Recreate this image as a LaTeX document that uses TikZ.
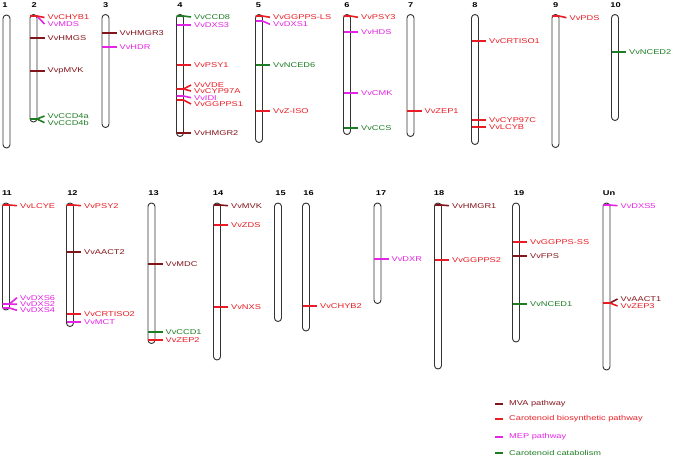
\documentclass[tikz,border=0pt]{standalone}
\usepackage{fontspec}
\newfontfamily\labf[FakeStretch=1.32]{Liberation Sans}
\definecolor{mvac}{RGB}{130,20,28}
\definecolor{caroc}{RGB}{232,28,36}
\definecolor{mepc}{RGB}{228,36,228}
\definecolor{catc}{RGB}{30,125,36}
\tikzset{
  chromo/.style={draw=black!80, fill=white, line width=0.9pt, rectangle, rounded corners=3.4pt, minimum width=7pt, inner sep=0pt},
  numlab/.style={font=\labf\fontsize{7}{8}\selectfont\bfseries, inner sep=0pt},
  glab/.style={font=\labf\fontsize{7}{8}\selectfont, anchor=west, inner xsep=3pt, inner ysep=0pt},
  tick/.style={line width=1.6pt},
  mva/.style={color=mvac},
  caro/.style={color=caroc},
  mep/.style={color=mepc},
  cat/.style={color=catc},
}
\newcommand\chr[6]{% name, xc, top, bottom, number text, number x
  \node[chromo, minimum height={#4-#3}] (c#1) at (#2,{(#3+#4)/2}) {};
  \node[numlab] (n#1) at (#6,{#3-9.7}) {#5};
}
\newcommand\gene[6]{% xc, ytick, ylabel, style, name, text
  \node[glab,#4] (#5) at (#1+11,#3) {#6};
  \coordinate (#5t) at (#1-3.5,#2);
  \draw[tick,#4] (#5t) -- ++(7,0) -- (#5.west);
}
\begin{document}
\begin{tikzpicture}[x=1pt,y=-1pt]
\path[use as bounding box] (0,0) rectangle (675,460);
% row 1
\chr{1}{6.5}{15}{148}{1}{5}
\chr{2}{33.5}{14.5}{122}{2}{34.3}
\chr{3}{105.5}{14.5}{127.5}{3}{105.7}
\chr{4}{180}{14.5}{136.5}{4}{180}
\chr{5}{259}{14.5}{142.5}{5}{258.5}
\chr{6}{347}{14.5}{134.5}{6}{347}
\chr{7}{410.5}{14.5}{136.5}{7}{410.7}
\chr{8}{475}{14.5}{144.5}{8}{475}
\chr{9}{555.5}{14.5}{147.5}{9}{555.7}
\chr{10}{615}{14.5}{120.5}{10}{615.5}
% row 2
\chr{11}{6}{203}{310}{11}{7}
\chr{12}{70}{203}{326.5}{12}{72.5}
\chr{13}{151.5}{203}{343.5}{13}{153.5}
\chr{14}{217}{203}{360}{14}{218}
\chr{15}{278}{203}{321.5}{15}{280.5}
\chr{16}{306}{203}{331}{16}{308.5}
\chr{17}{377.5}{203}{303.5}{17}{381}
\chr{18}{438}{203}{369}{18}{439}
\chr{19}{516}{203}{342}{19}{519}
\chr{Un}{606.5}{203}{370}{Un}{609}
% chr 2
\gene{33.5}{16}{24}{mep}{gMDS}{VvMDS}
\gene{33.5}{16}{17.5}{caro}{gCHYB1}{VvCHYB1}
\gene{33.5}{38}{38}{mva}{gHMGS}{VvHMGS}
\gene{33.5}{71}{71}{mva}{gpMVK}{VvpMVK}
\gene{33.5}{119}{116}{cat}{gCCD4a}{VvCCD4a}
\gene{33.5}{119}{122.7}{cat}{gCCD4b}{VvCCD4b}
% chr 3
\gene{105.5}{33}{33}{mva}{gHMGR3}{VvHMGR3}
\gene{105.5}{47}{47}{mep}{gHDR}{VvHDR}
% chr 4
\gene{180}{16}{17}{cat}{gCCD8}{VvCCD8}
\gene{180}{25}{25}{mep}{gDXS3}{VvDXS3}
\gene{180}{65}{65}{caro}{gPSY1}{VvPSY1}
\gene{180}{89}{85}{caro}{gVDE}{VvVDE}
\gene{180}{89}{91}{caro}{gCYP97A}{VvCYP97A}
\gene{180}{96}{97.7}{mep}{gIDI}{VvIDI}
\gene{180}{100}{104}{caro}{gGGPPS1}{VvGGPPS1}
\gene{180}{133}{133}{mva}{gHMGR2}{VvHMGR2}
% chr 5
\gene{259}{16}{17.3}{caro}{gGGPPSLS}{VvGGPPS-LS}
\gene{259}{21}{24.3}{mep}{gDXS1}{VvDXS1}
\gene{259}{65}{65}{cat}{gNCED6}{VvNCED6}
\gene{259}{111}{111}{caro}{gZISO}{VvZ-ISO}
% chr 6
\gene{347}{16}{17.3}{caro}{gPSY3}{VvPSY3}
\gene{347}{32}{32}{mep}{gHDS}{VvHDS}
\gene{347}{93}{93}{mep}{gCMK}{VvCMK}
\gene{347}{128}{128}{cat}{gCCS}{VvCCS}
% chr 7
\gene{410.5}{111}{111}{caro}{gZEP1}{VvZEP1}
% chr 8
\gene{475}{41}{41}{caro}{gCRTISO1}{VvCRTISO1}
\gene{475}{120}{120}{caro}{gCYP97C}{VvCYP97C}
\gene{475}{127}{127}{caro}{gLCYB}{VvLCYB}
% chr 9
\gene{555.5}{16}{17.7}{caro}{gPDS}{VvPDS}
% chr 10
\gene{615}{52}{52}{cat}{gNCED2}{VvNCED2}
% chr 11
\gene{6}{205}{205.7}{caro}{gLCYE}{VvLCYE}
\gene{6}{304}{297.7}{mep}{gDXS6}{VvDXS6}
\gene{6}{304}{304.3}{mep}{gDXS2}{VvDXS2}
\gene{6}{308}{310.3}{mep}{gDXS4}{VvDXS4}
% chr 12
\gene{70}{205}{205.7}{caro}{gPSY2}{VvPSY2}
\gene{70}{252}{252}{mva}{gAACT2}{VvAACT2}
\gene{70}{314}{314}{caro}{gCRTISO2}{VvCRTISO2}
\gene{70}{322}{322}{mep}{gMCT}{VvMCT}
% chr 13
\gene{151.5}{264}{264}{mva}{gMDC}{VvMDC}
\gene{151.5}{332}{332}{cat}{gCCD1}{VvCCD1}
\gene{151.5}{340}{340}{caro}{gZEP2}{VvZEP2}
% chr 14
\gene{217}{205}{205.7}{mva}{gMVK}{VvMVK}
\gene{217}{225}{225}{caro}{gZDS}{VvZDS}
\gene{217}{307}{307}{caro}{gNXS}{VvNXS}
% chr 16
\gene{306}{306}{306}{caro}{gCHYB2}{VvCHYB2}
% chr 17
\gene{377.5}{259}{259}{mep}{gDXR}{VvDXR}
% chr 18
\gene{438}{205}{205.7}{mva}{gHMGR1}{VvHMGR1}
\gene{438}{260}{260}{caro}{gGGPPS2}{VvGGPPS2}
% chr 19
\gene{516}{242}{242}{caro}{gGGPPSSS}{VvGGPPS-SS}
\gene{516}{256}{256}{mva}{gFPS}{VvFPS}
\gene{516}{304}{304}{cat}{gNCED1}{VvNCED1}
% Un
\gene{606.5}{205}{205.7}{mep}{gDXS5}{VvDXS5}
\gene{606.5}{303}{299}{mva}{gAACT1}{VvAACT1}
\gene{606.5}{303}{306}{caro}{gZEP3}{VvZEP3}
\draw[tick,caro] (gAACT1t) -- ++(7,0);
% legend
\node[glab,mva,inner xsep=0pt] (l1) at (509,404) {MVA pathway};
\node[glab,caro,inner xsep=0pt] (l2) at (509,419) {Carotenoid biosynthetic pathway};
\node[glab,mep,inner xsep=0pt] (l3) at (509,437) {MEP pathway};
\node[glab,cat,inner xsep=0pt] (l4) at (509,453) {Carotenoid catabolism};
\foreach \l/\s in {l1/mva,l2/caro,l3/mep,l4/cat}
  \draw[\s, line width=2pt] ([xshift=-14pt]\l.west) -- ([xshift=-6pt]\l.west);
\end{tikzpicture}
\end{document}
